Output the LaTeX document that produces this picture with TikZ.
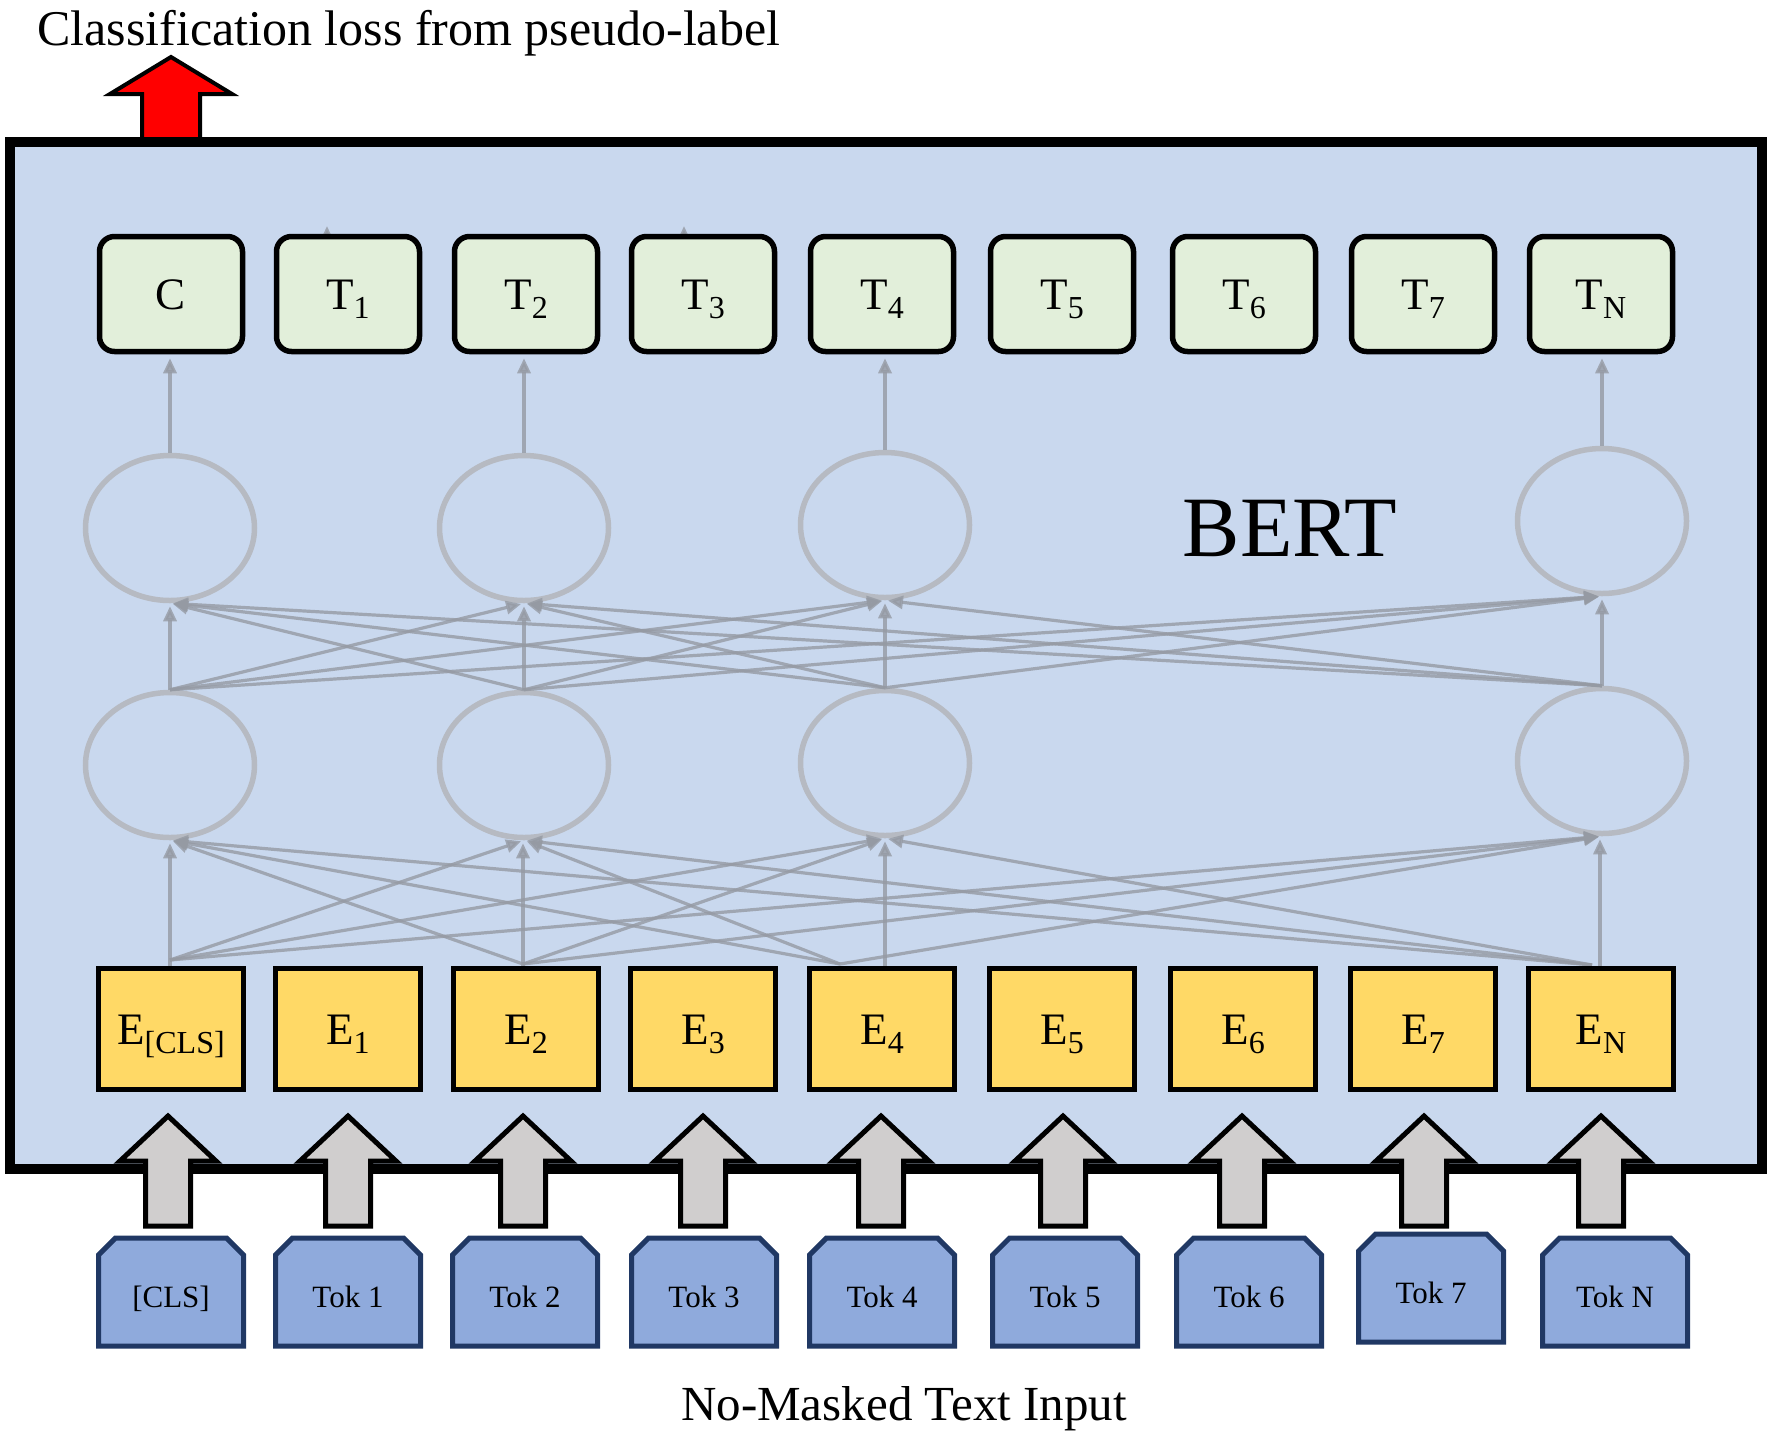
\documentclass[tikz,border=0pt]{standalone}
\usepackage{fontspec}
\setmainfont{Liberation Serif}
\usetikzlibrary{arrows.meta,shapes.geometric}
\definecolor{bertbg}{HTML}{C9D8EE}
\definecolor{tgreen}{HTML}{E2EFDA}
\definecolor{eyellow}{HTML}{FFD966}
\definecolor{tokfill}{HTML}{8FAADC}
\definecolor{tokline}{HTML}{203864}
\definecolor{blockgray}{HTML}{D0CECE}
\definecolor{ellgray}{HTML}{B6BAC2}
\definecolor{conngray}{HTML}{959AA3}
\newcommand\lowsub[1]{\raisebox{-9pt}{\fontsize{32}{32}\selectfont #1}}
\tikzset{
 tbox/.style={draw=black, line width=5.5pt, fill=tgreen, rounded corners=15pt, minimum width=143pt, minimum height=115pt, inner sep=0pt, text height=30pt, text depth=0pt, font=\fontsize{45}{50}\selectfont},
 ebox/.style={draw=black, line width=5.5pt, fill=eyellow, minimum width=145pt, minimum height=121pt, inner sep=0pt, text height=30pt, text depth=0pt, font=\fontsize{45}{50}\selectfont},
 toktext/.style={minimum width=145pt, minimum height=108pt, inner sep=0pt, text height=31pt, text depth=0pt, font=\fontsize{31}{36}\selectfont},
 tokshape/.style={draw=tokline, fill=tokfill, line width=5pt, line join=miter},
 ell/.style={ellipse, draw=ellgray, line width=5.5pt, minimum width=169pt, minimum height=145pt, inner sep=0pt},
 conn/.style={draw=conngray, line width=3.2pt, opacity=0.8, -{Triangle[length=15pt,width=13pt]}, shorten >=3pt},
 blockarrow/.style={draw=black, fill=blockgray, line width=5pt, line join=miter, miter limit=10},
 redarrow/.style={draw=black, fill=red, line width=4pt, line join=miter, miter limit=10},
}
\begin{document}
\begin{tikzpicture}[x=1pt,y=-1pt]
\useasboundingbox (0,0) rectangle (1790,1436);
% BERT box
\node[draw=black, line width=10pt, fill=bertbg, minimum width=1752pt, minimum height=1027pt, inner sep=0pt] (bertbox) at (886,655.5) {};
% red arrow
\path[redarrow] (171,57) -- (232,94) -- (200,94) -- (200,139) -- (142,139) -- (142,94) -- (110,94) -- cycle;
\node[anchor=base west, inner sep=0pt, font=\fontsize{50}{60}\selectfont] (title) at (37,45) {Classification loss from pseudo-label};
\node[anchor=base, inner sep=0pt, font=\fontsize{86}{96}\selectfont] (bert) at (1290,556) {BERT};
% ellipses
\foreach \i/\x/\yu/\yl in {1/170/528/765, 2/524/528/765, 3/885/525/763, 4/1602/521/761} {
  \node[ell] (u\i) at (\x,\yu) {};
  \node[ell] (l\i) at (\x,\yl) {};
}
% sources in the bottom layer
\coordinate (s1) at (170,960);
\coordinate (s2) at (523,964);
\coordinate (s3) at (840,964);
\coordinate (s4) at (1592,965);
\coordinate (v1) at (170,968);
\coordinate (v2) at (523,966);
\coordinate (v3) at (885,966);
\coordinate (v4) at (1600,966);
\foreach \s in {1,2,3,4} {
  \foreach \t in {1,2,3,4} {
    \ifnum\s=\t\relax
      \draw[conn] (v\s) -- (v\s |- l\t.south);
    \else
      \draw[conn] (s\s) -- (l\t.south);
    \fi
    \draw[conn] (l\s.north) -- (u\t.south);
  }
}
% hidden arrows peeking above T1 and T3
\coordinate (h1) at (327,262);
\coordinate (h3) at (684,262);
\draw[conn, shorten >=0pt] (h1) -- (327,226);
\draw[conn, shorten >=0pt] (h3) -- (684,226);
% output boxes
\foreach \i/\x/\t in {c/171/C, 1/348/T\lowsub{1}, 2/526/T\lowsub{2}, 3/703/T\lowsub{3}, 4/882/T\lowsub{4}, 5/1062/T\lowsub{5}, 6/1244/T\lowsub{6}, 7/1423/T\lowsub{7}, n/1601/T\lowsub{N}} {
  \node[tbox] (t\i) at (\x,294) {\t};
}
\draw[conn, shorten >=4pt] (u1.north) -- (u1.north |- tc.south);
\draw[conn, shorten >=4pt] (u2.north) -- (u2.north |- t2.south);
\draw[conn, shorten >=4pt] (u3.north) -- (u3.north |- t4.south);
\draw[conn, shorten >=4pt] (u4.north) -- (u4.north |- tn.south);
% embedding boxes
\foreach \i/\x/\t in {c/171/E\lowsub{[CLS]}, 1/348/E\lowsub{1}, 2/526/E\lowsub{2}, 3/703/E\lowsub{3}, 4/882/E\lowsub{4}, 5/1062/E\lowsub{5}, 6/1243/E\lowsub{6}, 7/1423/E\lowsub{7}, n/1601/E\lowsub{N}} {
  \node[ebox] (e\i) at (\x,1029) {\t};
}
% block arrows
\foreach \x in {168,348,523,703,881,1063,1242,1424,1601} {
  \path[blockarrow] (\x,1116) -- (\x+48,1161) -- (\x+22.5,1161) -- (\x+22.5,1226) -- (\x-22.5,1226) -- (\x-22.5,1161) -- (\x-48,1161) -- cycle;
}
% token boxes
\foreach \i/\x/\y/\t in {c/171/1292/[CLS], 1/348/1292/Tok 1, 2/525/1292/Tok 2, 3/704/1292/Tok 3, 4/882/1292/Tok 4, 5/1065/1292/Tok 5, 6/1249/1292/Tok 6, 7/1431/1288/Tok 7, n/1615/1292/Tok N} {
  \path[tokshape] (\x-72.5,\y+54) -- (\x-72.5,\y-37) -- (\x-55.5,\y-54) -- (\x+55.5,\y-54) -- (\x+72.5,\y-37) -- (\x+72.5,\y+54) -- cycle;
  \node[toktext] (tok\i) at (\x,\y) {\t};
}
\node[anchor=base, inner sep=0pt, font=\fontsize{49}{58}\selectfont] (input) at (904,1420) {No-Masked Text Input};
\end{tikzpicture}
\end{document}
